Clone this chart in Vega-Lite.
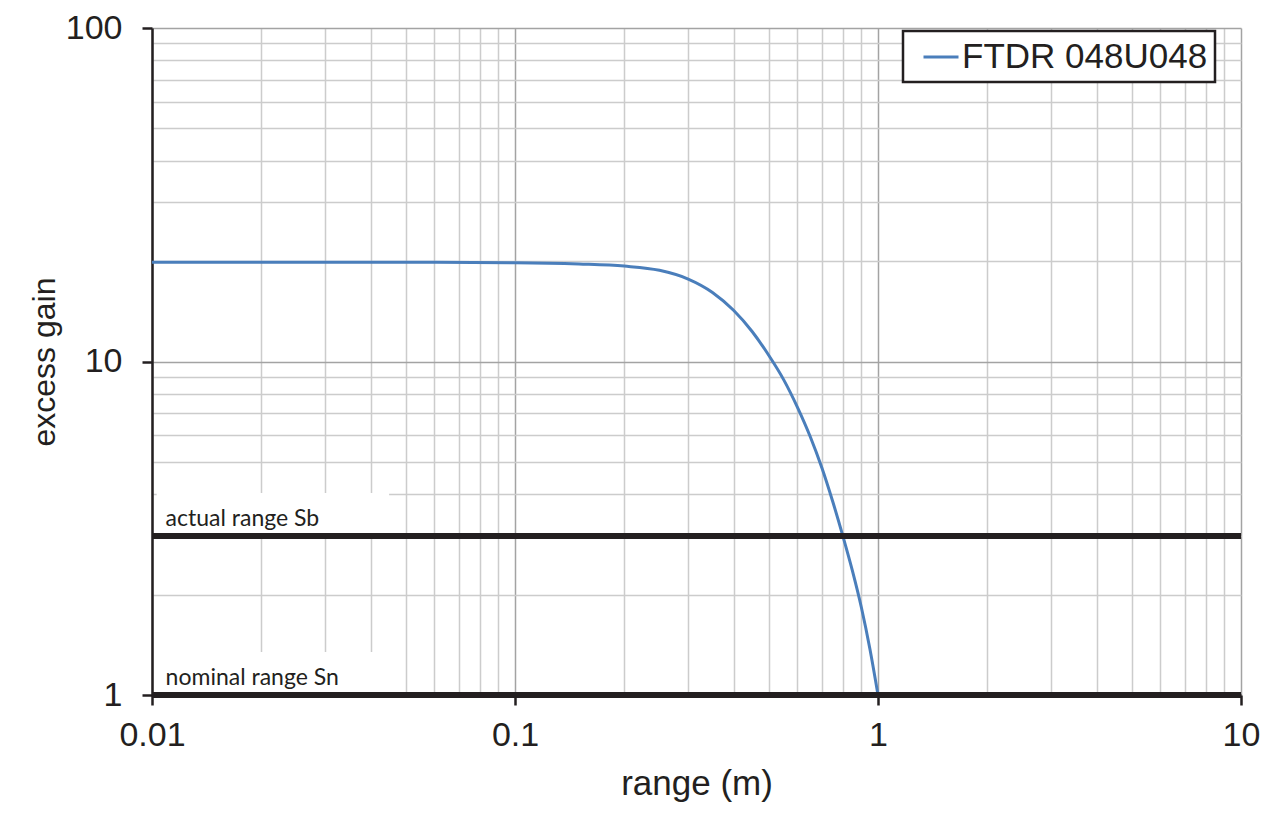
{
  "$schema": "https://vega.github.io/schema/vega-lite/v6.json",
  "width": 1089,
  "height": 667,
  "autosize": {"type": "none"},
  "padding": {"left": 152, "top": 28, "right": 39, "bottom": 129},
  "background": "white",
  "config": {
    "view": {"stroke": null},
    "font": "Liberation Sans",
    "axis": {
      "labelFont": "Liberation Sans",
      "titleFont": "Liberation Sans",
      "labelFontSize": 34,
      "titleFontSize": 35,
      "labelColor": "#231f20",
      "titleColor": "#231f20",
      "titleFontWeight": "normal",
      "domainColor": "#231f20",
      "domainWidth": 2.5,
      "tickColor": "#231f20",
      "tickWidth": 2.5,
      "tickSize": 10,
      "gridWidth": 1.5
    }
  },
  "datasets": {
    "curve": [
      {"range": 0.01, "gain": 19.85, "series": "FTDR 048U048"},
      {"range": 0.02, "gain": 19.85, "series": "FTDR 048U048"},
      {"range": 0.05, "gain": 19.85, "series": "FTDR 048U048"},
      {"range": 0.1, "gain": 19.78, "series": "FTDR 048U048"},
      {"range": 0.15, "gain": 19.6, "series": "FTDR 048U048"},
      {"range": 0.2, "gain": 19.32, "series": "FTDR 048U048"},
      {"range": 0.25, "gain": 18.77, "series": "FTDR 048U048"},
      {"range": 0.3, "gain": 17.67, "series": "FTDR 048U048"},
      {"range": 0.35, "gain": 16.11, "series": "FTDR 048U048"},
      {"range": 0.4, "gain": 14.24, "series": "FTDR 048U048"},
      {"range": 0.45, "gain": 12.3, "series": "FTDR 048U048"},
      {"range": 0.5, "gain": 10.44, "series": "FTDR 048U048"},
      {"range": 0.55, "gain": 8.81, "series": "FTDR 048U048"},
      {"range": 0.6, "gain": 7.29, "series": "FTDR 048U048"},
      {"range": 0.65, "gain": 5.97, "series": "FTDR 048U048"},
      {"range": 0.7, "gain": 4.81, "series": "FTDR 048U048"},
      {"range": 0.75, "gain": 3.81, "series": "FTDR 048U048"},
      {"range": 0.8, "gain": 3.0, "series": "FTDR 048U048"},
      {"range": 0.85, "gain": 2.36, "series": "FTDR 048U048"},
      {"range": 0.9, "gain": 1.83, "series": "FTDR 048U048"},
      {"range": 0.95, "gain": 1.374, "series": "FTDR 048U048"},
      {"range": 1.0, "gain": 1.0, "series": "FTDR 048U048"}
    ],
    "levels": [
      {"label": "actual range Sb", "from": 0.01, "to": 10, "gain": 3, "labelAt": 0.0109},
      {"label": "nominal range Sn", "from": 0.01, "to": 10, "gain": 1, "labelAt": 0.0109}
    ]
  },
  "layer": [
    {
      "data": {"name": "curve"},
      "mark": {"type": "line", "strokeWidth": 3, "interpolate": "monotone"},
      "encoding": {
        "x": {
          "field": "range",
          "type": "quantitative",
          "title": "range (m)",
          "scale": {"type": "log", "domain": [0.01, 10], "nice": false},
          "axis": {
            "values": [0.01, 0.02, 0.03, 0.04, 0.05, 0.06, 0.07, 0.08, 0.09, 0.1, 0.2, 0.3, 0.4, 0.5, 0.6, 0.7, 0.8, 0.9, 1, 2, 3, 4, 5, 6, 7, 8, 9, 10],
            "labelExpr": "abs(log(datum.value)/LN10 - round(log(datum.value)/LN10)) < 0.001 ? toString(datum.value) : ''",
            "tickOpacity": {"condition": {"test": "abs(log(datum.value)/LN10 - round(log(datum.value)/LN10)) < 0.001", "value": 1}, "value": 0},
            "gridColor": {"condition": {"test": "abs(log(datum.value)/LN10 - round(log(datum.value)/LN10)) < 0.001", "value": "#a3a3a3"}, "value": "#cccccc"},
            "labelPadding": 13,
            "titlePadding": 14,
            "labelFlush": false,
            "labelOverlap": false
          }
        },
        "y": {
          "field": "gain",
          "type": "quantitative",
          "scale": {"type": "log", "domain": [1, 100], "nice": false},
          "axis": {
            "title": "excess gain",
            "titleFontSize": 32,
            "values": [1, 2, 3, 4, 5, 6, 7, 8, 9, 10, 20, 30, 40, 50, 60, 70, 80, 90, 100],
            "labelExpr": "abs(log(datum.value)/LN10 - round(log(datum.value)/LN10)) < 0.001 ? toString(datum.value) : ''",
            "tickOpacity": {"condition": {"test": "abs(log(datum.value)/LN10 - round(log(datum.value)/LN10)) < 0.001", "value": 1}, "value": 0},
            "gridColor": {"condition": {"test": "abs(log(datum.value)/LN10 - round(log(datum.value)/LN10)) < 0.001", "value": "#a3a3a3"}, "value": "#cccccc"},
            "labelPadding": 20,
            "titlePadding": 4,
            "labelFlush": false,
            "labelOverlap": false
          }
        },
        "color": {
          "field": "series",
          "type": "nominal",
          "scale": {"range": ["#4a7ebb"]},
          "legend": {
            "title": null,
            "orient": "none",
            "legendX": 751,
            "legendY": 3,
            "symbolType": "stroke",
            "symbolSize": 1225,
            "symbolStrokeWidth": 3,
            "symbolOffset": 12,
            "labelFont": "Liberation Sans",
            "labelFontSize": 35,
            "labelColor": "#231f20",
            "labelOffset": 2,
            "labelLimit": 400,
            "padding": 7,
            "fillColor": "white",
            "strokeColor": "#231f20",
            "encode": {"legend": {"update": {"strokeWidth": {"value": 2.5}}}}
          }
        }
      }
    },
    {
      "data": {"name": "levels"},
      "mark": {"type": "rect", "fill": "white", "y2Offset": -43},
      "encoding": {
        "x": {"datum": 0.0103, "type": "quantitative"},
        "x2": {"datum": 0.045},
        "y": {"field": "gain", "type": "quantitative"},
        "y2": {"field": "gain"}
      }
    },
    {
      "data": {"name": "levels"},
      "mark": {"type": "rule", "strokeWidth": 6, "color": "#231f20"},
      "encoding": {
        "x": {"field": "from", "type": "quantitative"},
        "x2": {"field": "to"},
        "y": {"field": "gain", "type": "quantitative"}
      }
    },
    {
      "data": {"name": "levels"},
      "mark": {"type": "text", "align": "left", "baseline": "alphabetic", "dy": -10, "font": "Lato", "fontSize": 23, "color": "#231f20"},
      "encoding": {
        "x": {"field": "labelAt", "type": "quantitative"},
        "y": {"field": "gain", "type": "quantitative"},
        "text": {"field": "label"}
      }
    }
  ]
}
